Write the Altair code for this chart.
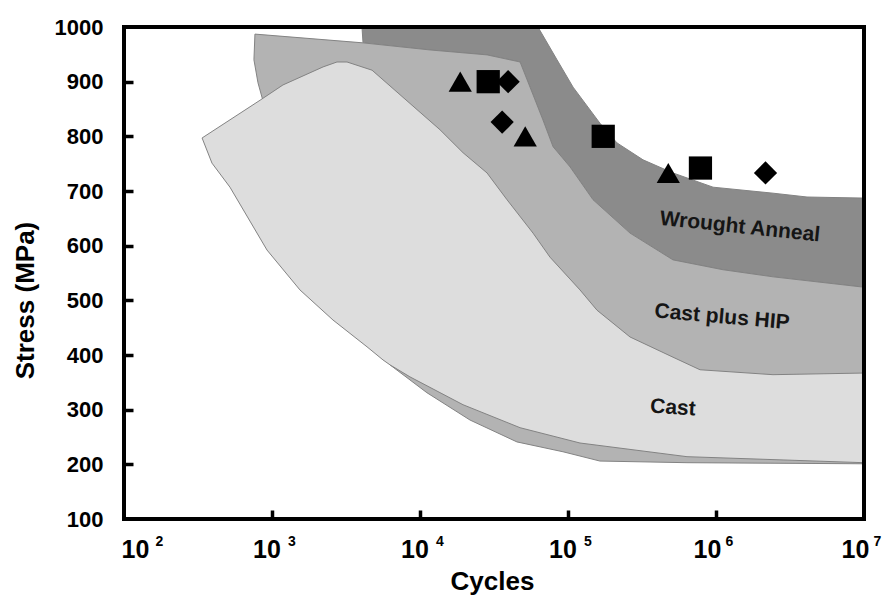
import altair as alt
import pandas as pd

# ---- data (cycles, MPa) ----
CAST_X = [337, 830, 1186, 2213, 2748, 3213, 4742, 13650, 19540, 28380, 38730, 58030, 75550,
          120500, 157000, 262400, 512000, 779600, 2427000, 1e7, 1e7, 636800, 120500, 47450,
          19540, 8551, 6266, 5623, 4385, 2582, 1545, 925, 520, 393, 337]
CAST_Y = [797, 866, 894, 927, 936, 936, 921, 812, 770, 733, 684, 623, 579,
          519, 482, 433, 396, 373, 364, 367, 203, 214, 239, 267,
          309, 360, 382, 391, 415, 464, 519, 592, 707, 751, 797]

HIP_X = [767, 4121, 11700, 28380, 47450, 55380, 67720, 79250, 103300, 147600, 262400, 512000,
         1114000, 2427000, 1e7, 1e7, 636800, 164400, 92470, 45180, 21780, 11140, 6266, 1807,
         869, 804, 755, 767]
HIP_Y = [987, 971, 958, 949, 936, 890, 830, 781, 744, 684, 623, 574,
         556, 543, 524, 201, 203, 206, 223, 241, 281, 331, 382, 565,
         865, 898, 940, 987]

WA_X = [4055, 62660, 84310, 108200, 164400, 214300, 321300, 512000, 955000, 2427000, 4121000,
        1e7, 1e7, 2427000, 1114000, 512000, 262400, 147600, 103300, 79250, 67720, 55380, 47450,
        28380, 11700, 4121, 4055]
WA_Y = [1000, 1000, 940, 890, 824, 788, 757, 733, 707, 696, 689,
        687, 524, 543, 556, 574, 623, 684, 744, 781, 830, 890, 936,
        949, 958, 971, 1000]

MK_X = [18700, 28900, 39400, 35900, 51400, 173000, 476000, 785000, 2160000]
MK_Y = [900, 900, 900, 826, 800, 800, 733, 742, 733]
MK_SHAPE = ['triangle', 'square', 'diamond', 'diamond', 'triangle', 'square',
            'triangle', 'square', 'diamond']

LABELS = ['Wrought Anneal', 'Cast plus HIP', 'Cast']
LABEL_X = [1452000, 1099000, 512000]
LABEL_Y = [634, 469, 303]

X_TICKS = [100, 1000, 10000, 100000, 1000000, 10000000]
Y_TICKS = [100, 200, 300, 400, 500, 600, 700, 800, 900, 1000]

# ---- styles ----
W, H = 740, 492
FONT = 'Liberation Sans'
LABEL_ANGLES = [6, 5, 4]

xs = alt.Scale(type='log', domain=[X_TICKS[0], X_TICKS[-1]], nice=False)
ys = alt.Scale(domain=[Y_TICKS[0], Y_TICKS[-1]], nice=False, zero=False)


def poly(xv, yv, fill):
    df = pd.DataFrame({'x': xv, 'y': yv, 'i': list(range(len(xv)))})
    return alt.Chart(df).mark_line(
        fill=fill, stroke='#838383', strokeWidth=1, clip=True, interpolate='linear'
    ).encode(
        x=alt.X('x:Q', scale=xs, axis=None),
        y=alt.Y('y:Q', scale=ys, axis=None),
        order=alt.Order('i:Q'),
    )


dark = poly(WA_X, WA_Y, '#8b8b8b')
hip = poly(HIP_X, HIP_Y, '#b3b3b3')
cast = poly(CAST_X, CAST_Y, '#dddddd')


def offset_cond(first, last, mid):
    return {'condition': [{'test': 'datum.value <= 100', 'value': first},
                          {'test': 'datum.value >= 1000000', 'value': last}],
            'value': mid}


common_x = dict(orient='bottom', values=X_TICKS, labelFont=FONT, labelFontWeight='bold',
                labelColor='black', labelBaseline='alphabetic', labelAlign='center',
                labelFlush=False, labelOverlap=False, labelBound=False, ticks=False,
                tickSize=0, domain=False, grid=False)

# base "10" of each power label
x_main = alt.Axis(
    labelExpr="'10'", labelFontSize=25, labelPadding=38,
    labelOffset=offset_cond(11, -9, -5.5),
    title='Cycles', titleFont=FONT, titleFontSize=26, titleFontWeight='bold',
    titleColor='black', titleX=368, titleY=70, titleBaseline='alphabetic',
    titleAlign='center', **common_x)

# exponent of each power label
x_exp = alt.Axis(
    labelExpr="'' + round(log(datum.value) / LN10)", labelFontSize=14, labelPadding=26,
    labelOffset=offset_cond(35, 13, 19.5), title=None, **common_x)

y_main = alt.Axis(
    orient='left', values=Y_TICKS, format='d', labelFont=FONT, labelFontSize=22,
    labelFontWeight='bold', labelColor='black', labelPadding=21, labelFlush=False,
    labelOverlap=False, ticks=False, tickSize=0, domain=False, grid=False,
    title='Stress (MPa)', titleFont=FONT, titleFontSize=26, titleFontWeight='bold',
    titleColor='black', titleAngle=270, titleX=-91, titleY=273,
    titleBaseline='alphabetic', titleAlign='center')

x_ticks = alt.Axis(orient='top', offset=-H, values=X_TICKS[1:-1], labels=False, domain=False,
                   grid=False, ticks=True, tickSize=9, tickWidth=3.5, tickColor='black',
                   title=None, zindex=1)
y_ticks = alt.Axis(orient='right', offset=-W, values=Y_TICKS[1:-1], labels=False, domain=False,
                   grid=False, ticks=True, tickSize=9, tickWidth=3.5, tickColor='black',
                   title=None, zindex=1)

mk_df = pd.DataFrame({'x': MK_X, 'y': MK_Y, 's': MK_SHAPE})
markers = alt.Chart(mk_df).mark_point(
    filled=True, color='black', opacity=1, size=540, strokeWidth=0
).encode(
    x=alt.X('x:Q', scale=xs, axis=x_main),
    y=alt.Y('y:Q', scale=ys, axis=y_main),
    shape=alt.Shape('s:N', scale=alt.Scale(domain=['triangle', 'square', 'diamond'],
                                           range=['triangle-up', 'square', 'diamond']),
                    legend=None),
)

exp_layer = alt.Chart(mk_df).mark_point(opacity=0).encode(
    x=alt.X('x:Q', scale=xs, axis=x_exp),
    y=alt.Y('y:Q', scale=ys, axis=None),
)

tick_layer = alt.Chart(mk_df).mark_point(opacity=0).encode(
    x=alt.X('x:Q', scale=xs, axis=x_ticks),
    y=alt.Y('y:Q', scale=ys, axis=y_ticks),
)

texts = []
for name, lx, ly, ang in zip(LABELS, LABEL_X, LABEL_Y, LABEL_ANGLES):
    tdf = pd.DataFrame({'x': [lx], 'y': [ly], 't': [name]})
    texts.append(alt.Chart(tdf).mark_text(
        angle=ang, font=FONT, fontSize=21, fontWeight='bold', color='#151515',
        align='center', baseline='middle'
    ).encode(
        x=alt.X('x:Q', scale=xs, axis=None),
        y=alt.Y('y:Q', scale=ys, axis=None),
        text='t:N'))

frame_h = alt.Chart(pd.DataFrame({'y': [Y_TICKS[0], Y_TICKS[-1]]})).mark_rule(
    color='black', strokeWidth=4, strokeCap='square'
).encode(y=alt.Y('y:Q', scale=ys, axis=None))
frame_v = alt.Chart(pd.DataFrame({'x': [X_TICKS[0], X_TICKS[-1]]})).mark_rule(
    color='black', strokeWidth=4, strokeCap='square'
).encode(x=alt.X('x:Q', scale=xs, axis=None))

chart = alt.layer(
    dark, hip, cast, *texts, markers, exp_layer, tick_layer, frame_h, frame_v
).resolve_axis(
    x='independent', y='independent'
).properties(
    width=W, height=H,
    padding={'left': 124, 'top': 27, 'right': 21, 'bottom': 77},
    autosize=alt.AutoSizeParams(type='none'),
    background='white',
).configure_view(stroke='transparent')

chart.save('out.html', embed_options={'renderer': 'svg', 'actions': False})
